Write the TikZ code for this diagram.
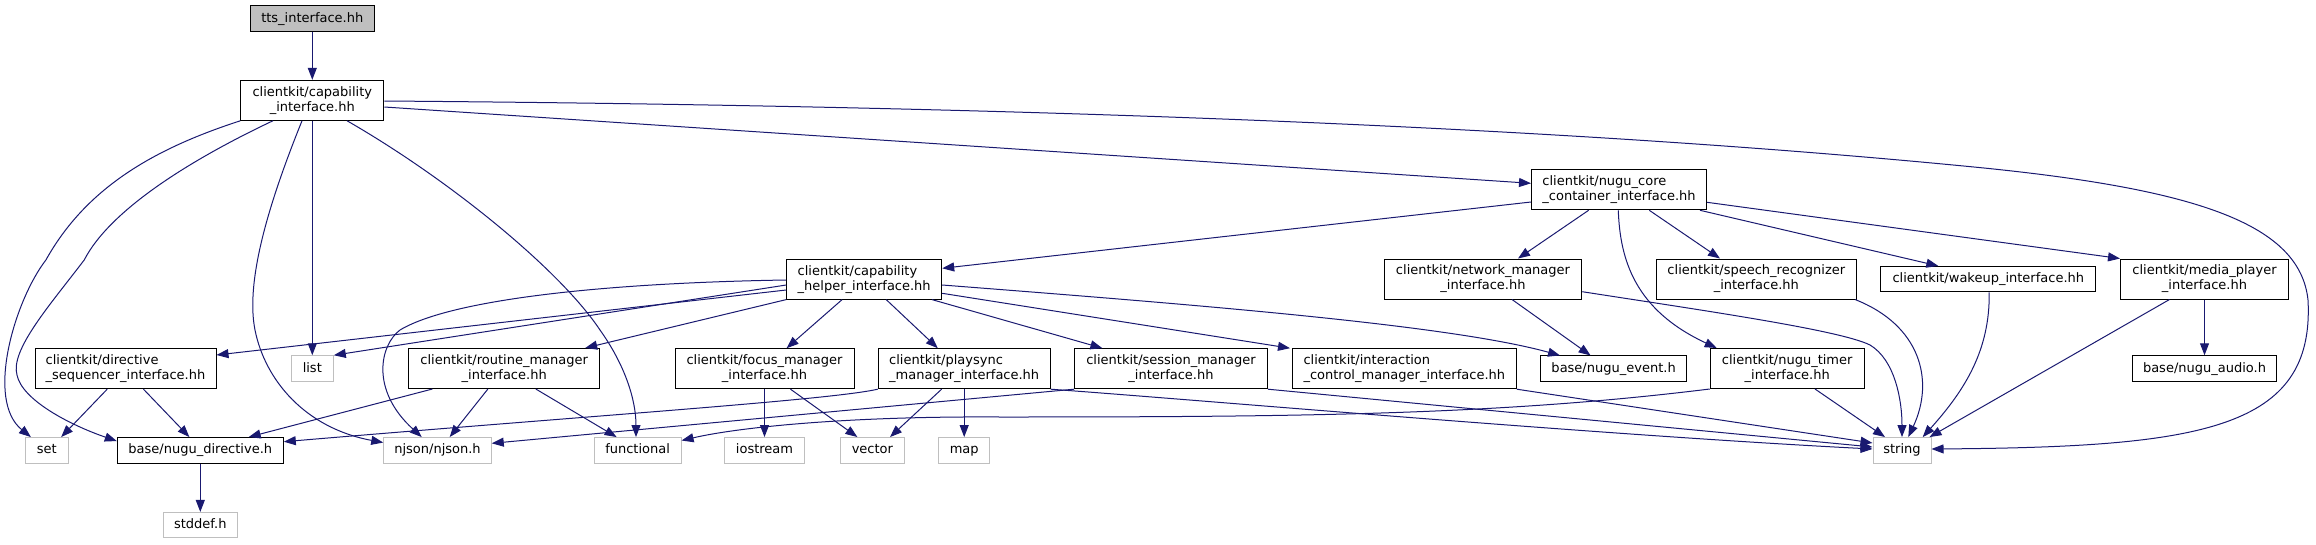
\documentclass[tikz,border=0pt]{standalone}
\usepackage{fontspec}
\setmainfont{DejaVu Sans}
\usepackage{tikz}
\usetikzlibrary{arrows.meta,positioning}
\definecolor{edgeblue}{HTML}{191970}
\definecolor{grey75}{HTML}{BFBFBF}
\tikzset{
  filebox/.style={
    rectangle, draw=black, fill=white, line width=1pt,
    minimum height=25.5pt, inner sep=2pt, align=center,
    text height=9.6pt, text depth=2.6pt,
    font=\fontsize{13}{15}\selectfont
  },
  twoline/.style={minimum height=40pt, text height=, text depth=},
  extbox/.style={filebox, draw=grey75},
  rootbox/.style={filebox, fill=grey75},
  incarrow/.style={
    -{Triangle[length=12pt,width=9pt]}, line width=1pt, color=edgeblue
  },
}

\begin{document}
\begin{tikzpicture}[x=1pt, y=-1pt]
  \useasboundingbox (0,0) rectangle (2316,544);

  \node[rootbox, minimum width=124pt] (tts) at (312.3,18.5) {tts\_interface.hh};
  \node[filebox, twoline, minimum width=143pt] (capif) at (312.3,100.3) {clientkit/capability\\\_interface.hh};
  \node[filebox, twoline, align=left, minimum width=175pt] (corecont) at (1619,189.8) {clientkit/nugu\_core\\\_container\_interface.hh};
  \node[filebox, twoline, align=left, minimum width=155pt] (caphelper) at (864.2,279.1) {clientkit/capability\\\_helper\_interface.hh};
  \node[filebox, twoline, minimum width=197.5pt] (netmgr) at (1483,279) {clientkit/network\_manager\\\_interface.hh};
  \node[filebox, twoline, minimum width=200pt] (speech) at (1756.3,279) {clientkit/speech\_recognizer\\\_interface.hh};
  \node[filebox, minimum width=214.7pt] (wakeup) at (1988.3,279.2) {clientkit/wakeup\_interface.hh};
  \node[filebox, twoline, minimum width=168pt] (media) at (2204.5,279) {clientkit/media\_player\\\_interface.hh};
  \node[filebox, twoline, align=left, minimum width=181pt] (dirseq) at (125.5,368.7) {clientkit/directive\\\_sequencer\_interface.hh};
  \node[extbox, minimum width=42pt] (list) at (312.3,368.5) {list};
  \node[filebox, twoline, minimum width=191pt] (routine) at (504.2,368.5) {clientkit/routine\_manager\\\_interface.hh};
  \node[filebox, twoline, minimum width=179pt] (focus) at (764.5,368.7) {clientkit/focus\_manager\\\_interface.hh};
  \node[filebox, twoline, align=left, minimum width=172pt] (playsync) at (964.2,368.7) {clientkit/playsync\\\_manager\_interface.hh};
  \node[filebox, twoline, minimum width=193pt] (session) at (1171,368.7) {clientkit/session\_manager\\\_interface.hh};
  \node[filebox, twoline, align=left, minimum width=224pt] (interact) at (1404.3,368.7) {clientkit/interaction\\\_control\_manager\_interface.hh};
  \node[filebox, minimum width=146pt] (event) at (1613.6,368.7) {base/nugu\_event.h};
  \node[filebox, twoline, minimum width=154pt] (timer) at (1787.2,368.5) {clientkit/nugu\_timer\\\_interface.hh};
  \node[filebox, minimum width=144pt] (audio) at (2204.5,368.5) {base/nugu\_audio.h};
  \node[extbox, minimum width=43pt] (set) at (46.7,450.3) {set};
  \node[filebox, minimum width=166pt] (directive) at (200.3,450.3) {base/nugu\_directive.h};
  \node[extbox, minimum width=107.5pt] (njson) at (437.5,450.3) {njson/njson.h};
  \node[extbox, minimum width=87pt] (functional) at (637.6,450.3) {functional};
  \node[extbox, minimum width=80pt] (iostream) at (764.5,450.3) {iostream};
  \node[extbox, minimum width=63.5pt] (vector) at (872.4,450.3) {vector};
  \node[extbox, minimum width=51pt] (map) at (964.2,450.3) {map};
  \node[extbox, minimum width=58pt] (string) at (1902,450.3) {string};
  \node[extbox, minimum width=74.6pt] (stddef) at (200.3,525.2) {stddef.h};

  \draw[incarrow] (tts) -- (capif);
  \draw[incarrow] (capif.south west) .. controls (150,150) and (85,190) .. (45.9,260)
    .. controls (15,300) and (-15,400) .. ([xshift=6.2pt]set.north west);
  \draw[incarrow] ([xshift=-39.4pt]capif.south) .. controls (190,160) and (110,210) .. (84.2,260)
    .. controls (50,305) and (10,350) .. (17,375)
    .. controls (22,400) and (70,425) .. ([yshift=-4pt]directive.north west);
  \draw[incarrow] ([xshift=-10.3pt]capif.south) .. controls (270,200) and (245,280) .. (255,330)
    .. controls (265,380) and (305,428) .. ([yshift=-5.5pt]njson.north west);
  \draw[incarrow] (capif.south) -- (list.north);
  \draw[incarrow] ([xshift=34.8pt]capif.south) .. controls (450,180) and (560,270) .. (600,330)
    .. controls (625,365) and (636,400) .. ([xshift=-1.6pt]functional.north);
  \draw[incarrow] ([yshift=-6.7pt]capif.east) -- ([yshift=6.5pt]corecont.west);
  \draw[incarrow] ([yshift=-0.7pt]capif.east) .. controls (900,105) and (1500,120) .. (1984,168)
    .. controls (2200,190) and (2300,225) .. (2308,300)
    .. controls (2315,430) and (2200,447) .. ([yshift=1.3pt]string.east);

  \draw[incarrow] ([yshift=-12.2pt]corecont.west) -- ([yshift=10.8pt]caphelper.east);
  \draw[incarrow] ([xshift=-30.4pt]corecont.south) -- ([xshift=35pt]netmgr.north);
  \draw[incarrow] ([xshift=-0.7pt]corecont.south) .. controls (1620,260) and (1635,310) .. ([xshift=-70.5pt]timer.north);
  \draw[incarrow] ([xshift=30.3pt]corecont.south) -- ([xshift=-36.3pt]speech.north);
  \draw[incarrow] ([xshift=-7pt]corecont.south east) -- ([xshift=-50pt]wakeup.north);
  \draw[incarrow] ([yshift=-12.5pt]corecont.east) -- (media.north west);

  \draw[incarrow] ([yshift=-0.9pt]caphelper.west) .. controls (600,283) and (450,300) .. (400,330)
    .. controls (380,345) and (370,390) .. ([xshift=-15.8pt]njson.north);
  \draw[incarrow] ([yshift=-5.9pt]caphelper.west) -- (list.north east);
  \draw[incarrow] ([yshift=-10.9pt]caphelper.west) -- ([yshift=13.7pt]dirseq.east);
  \draw[incarrow] (caphelper.south west) -- ([xshift=81pt]routine.north);
  \draw[incarrow] ([xshift=-22.1pt]caphelper.south) -- ([xshift=22.1pt]focus.north);
  \draw[incarrow] ([xshift=22pt]caphelper.south) -- ([xshift=-26.4pt]playsync.north);
  \draw[incarrow] ([xshift=67.8pt]caphelper.south) -- ([xshift=-68.6pt]session.north);
  \draw[incarrow] ([yshift=-14.2pt]caphelper.east) -- ([xshift=-114.3pt]interact.north);
  \draw[incarrow] ([yshift=-5.9pt]caphelper.east) .. controls (1200,305) and (1450,325) .. ([xshift=-53.6pt]event.north);

  \draw[incarrow] ([xshift=29pt]netmgr.south) -- ([xshift=-23pt]event.north);
  \draw[incarrow] ([yshift=-12.7pt]netmgr.east) .. controls (1700,310) and (1840,330) .. (1870,345)
    .. controls (1895,360) and (1902,400) .. (string.north);
  \draw[incarrow] ([xshift=98.7pt]speech.south) .. controls (1920,325) and (1935,380) .. ([xshift=6.3pt]string.north);
  \draw[incarrow] ([xshift=0.9pt]wakeup.south) .. controls (1990,350) and (1965,390) .. ([xshift=20.7pt]string.north);
  \draw[incarrow] ([xshift=-35pt]media.south) -- ([xshift=-2pt]string.north east);
  \draw[incarrow] (media.south) -- (audio.north);
  \draw[incarrow] ([xshift=27.8pt]timer.south) -- ([xshift=-17pt]string.north);
  \draw[incarrow] (timer.south west) .. controls (1500,415) and (1300,417) .. (1000,417)
    .. controls (850,416) and (740,427) .. ([yshift=9.8pt]functional.east);

  \draw[incarrow] (playsync.south west) .. controls (830,400) and (600,415) .. ([yshift=8.6pt]directive.east);
  \draw[incarrow] ([xshift=-22.6pt]playsync.south) -- ([xshift=17.6pt]vector.north);
  \draw[incarrow] (playsync.south) -- (map.north);
  \draw[incarrow] (playsync.south east) .. controls (1200,400) and (1600,435) .. ([yshift=1.3pt]string.west);
  \draw[incarrow] (focus.south) -- (iostream.north);
  \draw[incarrow] ([xshift=26pt]focus.south) -- ([xshift=-15pt]vector.north);
  \draw[incarrow] (session.south west) -- ([yshift=7pt]njson.east);
  \draw[incarrow] (session.south east) -- ([yshift=3.3pt]string.west);
  \draw[incarrow] (interact.south east) -- ([yshift=7.3pt]string.west);
  \draw[incarrow] ([xshift=-71.8pt]routine.south) -- ([xshift=48.4pt]directive.north);
  \draw[incarrow] ([xshift=-16.3pt]routine.south) -- ([xshift=12.2pt]njson.north);
  \draw[incarrow] ([xshift=31.6pt]routine.south) -- ([xshift=-21pt]functional.north);
  \draw[incarrow] ([xshift=-18.3pt]dirseq.south) -- ([xshift=14.5pt]set.north);
  \draw[incarrow] ([xshift=18pt]dirseq.south) -- ([xshift=-10.9pt]directive.north);
  \draw[incarrow] (directive) -- (stddef);
\end{tikzpicture}
\end{document}
